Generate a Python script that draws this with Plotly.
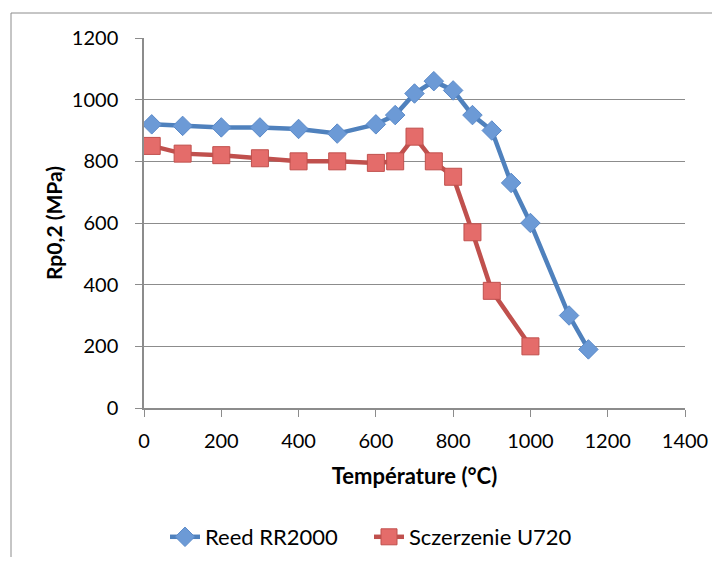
import plotly.graph_objects as go

temp_reed = [20, 100, 200, 300, 400, 500, 600, 650, 700, 750, 800, 850, 900, 950, 1000, 1100, 1150]
rp_reed = [920, 915, 910, 910, 905, 890, 920, 950, 1020, 1060, 1030, 950, 900, 730, 600, 300, 190]

temp_scz = [20, 100, 200, 300, 400, 500, 600, 650, 700, 750, 800, 850, 900, 1000]
rp_scz = [850, 825, 820, 810, 800, 800, 795, 800, 880, 800, 750, 570, 380, 200]

x_ticks = [0, 200, 400, 600, 800, 1000, 1200, 1400]
y_ticks = [0, 200, 400, 600, 800, 1000, 1200]

FONT = "Lato, Liberation Sans, sans-serif"
FS = 20

fig = go.Figure()
fig.add_trace(go.Scatter(
    x=temp_reed, y=rp_reed, mode="lines+markers", name="Reed RR2000",
    line=dict(color="#4F81BD", width=4.5),
    marker=dict(symbol="diamond", size=15, color="#6C9AD6", line=dict(color="#5B8AC9", width=1)),
))
fig.add_trace(go.Scatter(
    x=temp_scz, y=rp_scz, mode="lines+markers", name="Sczerzenie U720",
    line=dict(color="#C0504D", width=4.5),
    marker=dict(symbol="square", size=17, color="#E46C6A", line=dict(color="#C0504D", width=1)),
))

# body has an 8px margin in the page; compensate
OFF = 8
W, H = 720 - 2 * OFF, 565 - 2 * OFF
L, T = 144 - OFF, 38 - OFF
R = W - (685 - OFF)
B = H - (408 - OFF)
pw, ph = W - L - R, H - T - B

fig.update_layout(
    width=W, height=H,
    margin=dict(l=L, r=R, t=T, b=B, autoexpand=False),
    paper_bgcolor="white", plot_bgcolor="white",
    font=dict(family=FONT, size=FS, color="black"),
    showlegend=True,
    legend=dict(orientation="h", x=(165 - 144) / pw, xanchor="left",
                y=-(537 - 408) / ph, yanchor="middle", entrywidth=159,
                font=dict(family=FONT, size=22), traceorder="normal"),
    xaxis=dict(range=[0, 1400], tickvals=x_ticks, showgrid=False, zeroline=False,
               showline=True, linecolor="#8C8C8C", linewidth=1.5,
               ticks="outside", ticklen=7, tickcolor="#8C8C8C", ticklabelstandoff=7,
               title=dict(text="<b>Température (°C)</b>", font=dict(family=FONT, size=22), standoff=18)),
    yaxis=dict(range=[0, 1200], tickvals=y_ticks, showgrid=True, gridcolor="#8C8C8C", gridwidth=1,
               zeroline=False, showline=True, linecolor="#8C8C8C", linewidth=1.5,
               ticks="outside", ticklen=7, tickcolor="#8C8C8C", ticklabelstandoff=13,
               title=dict(text="<b>Rp0,2 (MPa)</b>", font=dict(family=FONT, size=21), standoff=3)),
    shapes=[dict(type="rect", xref="paper", yref="paper",
                 x0=(11 - 144) / pw, x1=(760 - 144) / pw,
                 y0=(408 - 600) / ph, y1=(408 - 13) / ph,
                 line=dict(color="#8C8C8C", width=1), fillcolor="rgba(0,0,0,0)", layer="below")],
)

fig.write_html("out.html")
